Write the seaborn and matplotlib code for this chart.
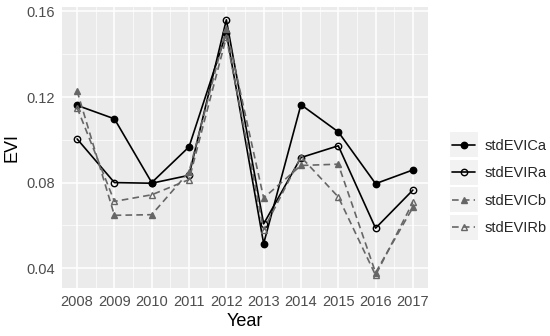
import matplotlib
matplotlib.use("Agg")
import matplotlib.pyplot as plt
import seaborn as sns
import pandas as pd
from matplotlib.lines import Line2D
from matplotlib.patches import Rectangle

years = [2008, 2009, 2010, 2011, 2012, 2013, 2014, 2015, 2016, 2017]
stdEVICa = [0.1161, 0.1098, 0.0800, 0.0967, 0.1500, 0.0515, 0.1164, 0.1037, 0.0795, 0.0859]
stdEVIRa = [0.1004, 0.0800, 0.0797, 0.0834, 0.1561, 0.0607, 0.0917, 0.0972, 0.0587, 0.0765]
stdEVICb = [0.1228, 0.0647, 0.0650, 0.0850, 0.1520, 0.0728, 0.0880, 0.0886, 0.0379, 0.0684]
stdEVIRb = [0.1150, 0.0712, 0.0743, 0.0814, 0.1480, 0.0580, 0.0920, 0.0733, 0.0367, 0.0708]
series_names = ["stdEVICa", "stdEVIRa", "stdEVICb", "stdEVIRb"]
yticks = [0.04, 0.08, 0.12, 0.16]
ytick_labels = ["0.04", "0.08", "0.12", "0.16"]

df = pd.DataFrame({"Year": years, "stdEVICa": stdEVICa, "stdEVIRa": stdEVIRa,
                   "stdEVICb": stdEVICb, "stdEVIRb": stdEVIRb})
long = df.melt(id_vars="Year", var_name="series", value_name="EVI")

sns.set_theme(style="darkgrid", rc={
    "axes.facecolor": "#EBEBEB",
    "grid.color": "white",
    "axes.edgecolor": "#EBEBEB",
})
plt.rcParams['font.family'] = ['Liberation Sans', 'DejaVu Sans']

fig = plt.figure(figsize=(5.5, 3.36), dpi=100)
ax = fig.add_axes([62/550, 1-288/336, (428-62)/550, (288-7)/336])

gray = "#666666"
ms = 4.6
styles = {
    "stdEVICa": dict(color="black", marker="o", linestyle="-", mfc="black", mec="black"),
    "stdEVIRa": dict(color="black", marker="o", linestyle="-", mfc="none", mec="black"),
    "stdEVICb": dict(color=gray, marker="^", linestyle=(0, (4, 2.5)), mfc=gray, mec=gray),
    "stdEVIRb": dict(color=gray, marker="^", linestyle=(0, (4, 2.5)), mfc="none", mec=gray),
}
handles = []
for name in series_names:
    st = styles[name]
    sub = long[long["series"] == name]
    sns.lineplot(data=sub, x="Year", y="EVI", ax=ax, color=st["color"],
                 marker=st["marker"], linestyle=st["linestyle"],
                 markerfacecolor=st["mfc"], markeredgecolor=st["mec"],
                 markersize=ms, markeredgewidth=1.0, linewidth=1.2, legend=False)
    handles.append(Line2D([], [], color=st["color"], marker=st["marker"],
                          linestyle=st["linestyle"], markerfacecolor=st["mfc"],
                          markeredgecolor=st["mec"], markersize=ms,
                          markeredgewidth=1.0, linewidth=1.2))

ymin = min(long["EVI"]); ymax = max(long["EVI"])
rng = ymax - ymin
ax.set_ylim(ymin - 0.05*rng, ymax + 0.05*rng)
ax.set_xlim(years[0] - 0.045*(years[-1]-years[0]), years[-1] + 0.045*(years[-1]-years[0]))
ax.set_xticks(years)
ax.set_xticklabels([str(y) for y in years])
ax.set_yticks(yticks)
ax.set_yticklabels(ytick_labels)
ax.set_xticks([y + 0.5 for y in years[:-1]], minor=True)
ax.set_yticks([0.06, 0.10, 0.14], minor=True)
ax.grid(which="major", color="white", linewidth=1.1)
ax.grid(which="minor", color="white", linewidth=0.5)
for s in ax.spines.values():
    s.set_visible(False)
ax.tick_params(axis="both", which="major", length=3, width=0.8, color="#333333",
               labelcolor="#4D4D4D", labelsize=10.5, pad=2)
ax.tick_params(axis="both", which="minor", length=0)
ax.set_xlabel("Year", fontsize=13, color="black", labelpad=3)
ax.set_ylabel("EVI", fontsize=13, color="black", labelpad=4)

leg = fig.legend(handles, series_names, loc="center left",
                 bbox_to_anchor=(452/550, 1-187/336), frameon=False,
                 fontsize=10.5, handlelength=1.6, handletextpad=0.6,
                 labelspacing=0.92, borderaxespad=0, borderpad=0)
fig.canvas.draw()
renderer = fig.canvas.get_renderer()
for h in leg.legend_handles:
    bb = h.get_window_extent(renderer)
    cx = (bb.x0 + bb.x1) / 2
    cy = (bb.y0 + bb.y1) / 2
    w, hgt = 28, 25
    r = Rectangle(((cx - w/2)/550, (cy - hgt/2)/336), w/550, hgt/336,
                  transform=fig.transFigure, facecolor="#F2F2F2", edgecolor="none",
                  zorder=0)
    fig.patches.append(r)

fig.savefig("out.png", dpi=100)
